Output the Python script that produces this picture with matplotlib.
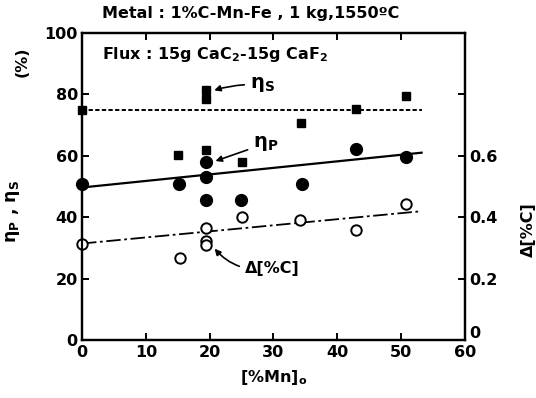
import matplotlib
matplotlib.use("Agg")
import matplotlib.pyplot as plt
import matplotlib.transforms as mtransforms

plt.rcParams['font.family'] = ['DejaVu Sans']
plt.rcParams['font.weight'] = 'bold'
plt.rcParams['mathtext.default'] = 'regular'

# eta_S (squares)
mn_s = [0, 19.5, 19.5, 15, 19.5, 25, 34.3, 43, 50.7]
eta_s = [75.0, 81.5, 78.3, 60.2, 61.8, 58.0, 70.8, 75.1, 79.5]

# eta_P (filled circles)
mn_p = [0, 15.2, 19.5, 19.5, 19.5, 24.9, 34.5, 43, 50.7]
eta_p = [50.8, 50.7, 57.9, 53.2, 45.6, 45.6, 50.8, 62.2, 59.7]

# delta[%C] (open circles), right axis
mn_c = [0, 15.3, 19.5, 19.5, 19.5, 25, 34.2, 43, 50.7]
dc = [0.313, 0.267, 0.364, 0.324, 0.310, 0.400, 0.391, 0.359, 0.443]

# fitted lines
fit_x = [0, 53.2]
fit_s = [75.0, 75.0]
fit_p = [49.7, 61.0]
fit_c = [0.315, 0.420]

fig = plt.figure(figsize=(5.36, 3.98), dpi=100)
ax = fig.add_axes([0.153, 0.1445, 0.7145, 0.7735])
ax2 = ax.twinx()

ax.plot(fit_x, fit_s, color='black', lw=1.4, ls=(0, (2.2, 1.2)))
ax.plot(fit_x, fit_p, color='black', lw=1.6, ls='-')
ax2.plot(fit_x, fit_c, color='black', lw=1.3, ls=(0, (8, 2, 1.5, 2)))

ax.plot(mn_s, eta_s, 's', color='black', ms=6, clip_on=False)
ax.plot(mn_p, eta_p, 'o', color='black', ms=8.5, clip_on=False)
ax2.plot(mn_c, dc, 'o', mfc='white', mec='black', mew=1.4, ms=7.5, clip_on=False)

ax.set_xlim(0, 60)
ax.set_ylim(0, 100)
ax2.set_ylim(0, 1.0)
ax.set_xticks([0, 10, 20, 30, 40, 50, 60])
ax.set_yticks([0, 20, 40, 60, 80, 100])
ax2.set_yticks([0, 0.2, 0.4, 0.6, 0.8])
ax2.set_yticklabels(['0', '0.2', '0.4', '0.6', ''])

for a in (ax, ax2):
    for s in a.spines.values():
        s.set_linewidth(1.6)
ax.tick_params(direction='in', length=5, width=1.4, labelsize=11.5, top=True, pad=3)
ax2.tick_params(direction='in', length=5, width=1.4, labelsize=11.5, pad=3)
for lab in ax.get_xticklabels() + ax.get_yticklabels() + ax2.get_yticklabels():
    lab.set_fontweight('bold')

# lift the right-hand "0" a little so it clears the "60" below it
lift = mtransforms.ScaledTranslation(0, 6 / 72, fig.dpi_scale_trans)
zero_lab = ax2.get_yticklabels()[0]
zero_lab.set_transform(zero_lab.get_transform() + lift)

ax.set_xlabel('[%Mn]$_o$', fontsize=11.5, fontweight='bold', labelpad=6)
ax.set_ylabel('η$_P$ , η$_S$', fontsize=12.5, fontweight='bold')
ax.yaxis.set_label_coords(-0.157, 0.42)
ax2.set_ylabel('Δ[%C]', fontsize=11.5, fontweight='bold')
ax2.yaxis.set_label_coords(1.145, 0.36)
fig.text(0.041, 0.845, '(%)', rotation=90, fontsize=11.5, fontweight='bold',
         ha='center', va='center')

fig.text(0.467, 0.965, 'Metal : 1%C-Mn-Fe , 1 kg,1550ºC', fontsize=11.5,
         fontweight='bold', ha='center', va='center')
ax.text(3.2, 93, 'Flux : 15g CaC$_2$-15g CaF$_2$', fontsize=11.5,
        fontweight='bold', va='center')

arrow = dict(arrowstyle='-|>', color='black', lw=1.2, mutation_scale=9)
ax.annotate('η$_S$', xy=(20.3, 81.0), xytext=(26.3, 83), fontsize=14,
            fontweight='bold', va='center',
            arrowprops=dict(arrow, connectionstyle='arc3,rad=0.1'))
ax.annotate('η$_P$', xy=(20.5, 58.0), xytext=(26.8, 64), fontsize=14,
            fontweight='bold', va='center',
            arrowprops=dict(arrow, connectionstyle='arc3,rad=0.0'))
ax.annotate('Δ[%C]', xy=(20.5, 30.5), xytext=(25.5, 23.5), fontsize=11.5,
            fontweight='bold', va='center',
            arrowprops=dict(arrow, connectionstyle='arc3,rad=-0.3'))

fig.savefig('out.png', dpi=100)
